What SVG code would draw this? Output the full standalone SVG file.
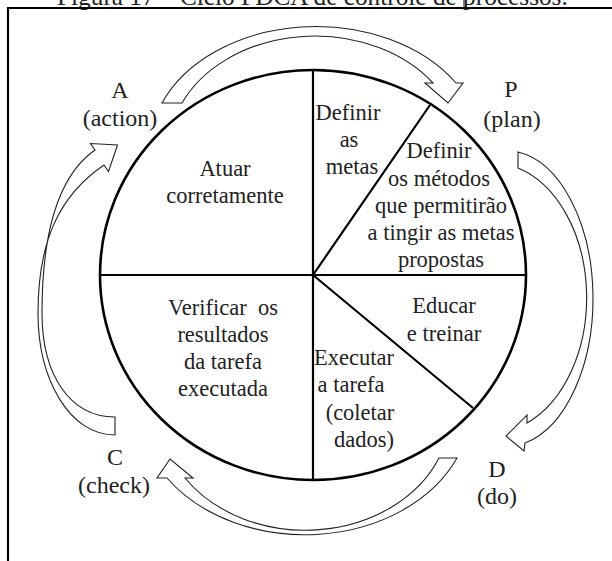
<svg xmlns="http://www.w3.org/2000/svg" width="612" height="561" viewBox="0 0 612 561">
  <style>
    .frame { fill: none; stroke: #000; stroke-width: 2.2; }
    .wheel { fill: #fff; stroke: #000; stroke-width: 2.6; }
    .divider { fill: none; stroke: #000; stroke-width: 2.2; }
    .arrow { fill: #fff; stroke: #222; stroke-width: 1.1; stroke-linejoin: miter; }
    text { font-family: "Liberation Serif", "Times New Roman", serif; fill: #222; }
    .body { font-size: 22.5px; text-anchor: middle; }
    .label { font-size: 24px; text-anchor: middle; }
    .title { font-size: 25.3px; }
  </style>

  <rect width="612" height="561" fill="#fff"/>

  <!-- caption, clipped by the page top -->
  <text class="title" x="57" y="5">Figura 17 – Ciclo PDCA de controle de processos.</text>
  <line x1="464" y1="0" x2="464" y2="8" stroke="#000" stroke-width="1"/>

  <!-- frame -->
  <path class="frame" d="M8,561 V8 H612"/>

  <!-- cycle arrows between the stages -->
  <g id="connectors">
    <!-- A to P, over the top -->
    <path class="arrow" d="M162,103 A166,122 0 0 1 456,83 L463,83 L448,103 L425,83 L433,83 A146,114 0 0 0 182,103 Z"/>
    <!-- P to D, down the right side -->
    <path class="arrow" d="M518,152 A87,148 0 0 1 525,443 L524,451 L506,436 L527,415 L527,423 A95,135 0 0 0 518,168 Z"/>
    <!-- D to C, under the bottom -->
    <path class="arrow" d="M439,458 L457,458 A166,128 0 0 1 167,478 L157,478 L170,459 L193,478 L185,478 A145,118 0 0 0 439,458 Z"/>
    <!-- C to A, up the left side -->
    <path class="arrow" d="M115,435 C70,435 38,380 38,313 C38,240 60,195 104,165 L108.5,171.5 L117.5,145 L90.5,143.5 L95,150 C55,178 42,240 42,313 C42,375 70,417 115,417 Z"/>
  </g>

  <!-- the wheel and its sectors -->
  <g id="wheel">
    <ellipse class="wheel" cx="313" cy="275" rx="213" ry="205"/>
    <path class="divider" d="M100,275 H526 M313,70 V480 M313,275 L430,105 M313,275 L473,408"/>
  </g>

  <g id="sector-act">
    <text class="body" x="225" y="176">Atuar</text>
    <text class="body" x="225" y="203">corretamente</text>
  </g>
  <g id="sector-goals">
    <text class="body" x="348" y="120">Definir</text>
    <text class="body" x="349" y="147">as</text>
    <text class="body" x="352" y="174">metas</text>
  </g>
  <g id="sector-methods">
    <text class="body" x="439" y="158">Definir</text>
    <text class="body" x="439" y="186">os métodos</text>
    <text class="body" x="441" y="213">que permitirão</text>
    <text class="body" x="441" y="240">a tingir as metas</text>
    <text class="body" x="441" y="267">propostas</text>
  </g>
  <g id="sector-train">
    <text class="body" x="444" y="313">Educar</text>
    <text class="body" x="444" y="341">e treinar</text>
  </g>
  <g id="sector-execute">
    <text class="body" x="354" y="365">Executar</text>
    <text class="body" x="351" y="392">a tarefa</text>
    <text class="body" x="360" y="420">(coletar</text>
    <text class="body" x="364" y="447">dados)</text>
  </g>
  <g id="sector-check">
    <text class="body" x="223" y="315" xml:space="preserve">Verificar  os</text>
    <text class="body" x="223" y="342">resultados</text>
    <text class="body" x="223" y="369">da tarefa</text>
    <text class="body" x="223" y="396">executada</text>
  </g>

  <!-- stage labels -->
  <g id="label-a">
    <text class="label" x="120" y="98">A</text>
    <text class="label" x="120" y="126">(action)</text>
  </g>
  <g id="label-p">
    <text class="label" x="511" y="97">P</text>
    <text class="label" x="512" y="127">(plan)</text>
  </g>
  <g id="label-d">
    <text class="label" x="497" y="477">D</text>
    <text class="label" x="497" y="504">(do)</text>
  </g>
  <g id="label-c">
    <text class="label" x="115" y="465">C</text>
    <text class="label" x="114" y="493">(check)</text>
  </g>
</svg>
